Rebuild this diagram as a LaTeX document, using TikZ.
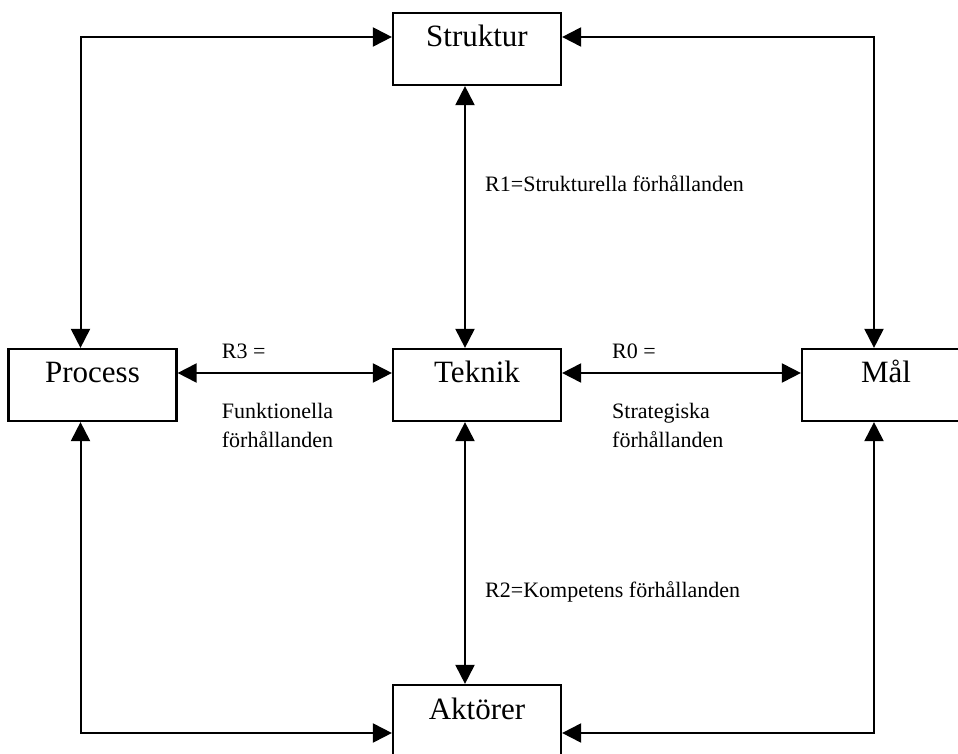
\documentclass[tikz,border=0pt]{standalone}
\usepackage{fontspec}
\setmainfont{Liberation Serif}
\usetikzlibrary{arrows.meta}
\begin{document}
\begin{tikzpicture}[x=1pt,y=1pt,
  box/.style={draw, line width=2.2pt, minimum width=168pt, inner sep=0pt,
    text height=34pt, text depth=38pt, font=\fontsize{31}{37}\selectfont},
  link/.style={line width=2pt,
    {Triangle[length=19pt,width=19pt]}-{Triangle[length=19pt,width=19pt]}},
  note/.style={anchor=base west, inner sep=0pt, align=left,
    font=\fontsize{22}{28.5}\selectfont}]
\clip (0,0) rectangle (958,753);

% the five concepts
\node[box] (struktur) at (477,704) {Struktur};
\node[box] (process)  at (92.5,368) {Process};
\node[box] (teknik)   at (477,368) {Teknik};
\node[box] (mal)      at (886,368) {Mål};
\node[box] (aktorer)  at (477,32)  {Aktörer};

% relations
\draw[link] ([yshift=12pt]struktur.west) -| ([xshift=-12pt]process.north);
\draw[link] ([yshift=12pt]struktur.east) -| ([xshift=-12pt]mal.north);
\draw[link] ([xshift=-12pt]struktur.south) -- ([xshift=-12pt]teknik.north);
\draw[link] ([yshift=12pt]process.east) -- ([yshift=12pt]teknik.west);
\draw[link] ([yshift=12pt]teknik.east) -- ([yshift=12pt]mal.west);
\draw[link] ([xshift=-12pt]teknik.south) -- ([xshift=-12pt]aktorer.north);
\draw[link] ([xshift=-12pt]process.south) |- ([yshift=-12pt]aktorer.west);
\draw[link] ([xshift=-12pt]mal.south) |- ([yshift=-12pt]aktorer.east);

% relation labels (two-line labels are placed by their last baseline)
\node[note] (r1)  at (485,561)     {R1=Strukturella förhållanden};
\node[note] (r3)  at (221.7,394)   {R3 =};
\node[note] (r3b) at (221.7,305.5) {Funktionella\\förhållanden};
\node[note] (r0)  at (612,394)     {R0 =};
\node[note] (r0b) at (612,305.5)   {Strategiska\\förhållanden};
\node[note] (r2)  at (485,156)     {R2=Kompetens förhållanden};
\end{tikzpicture}
\end{document}
